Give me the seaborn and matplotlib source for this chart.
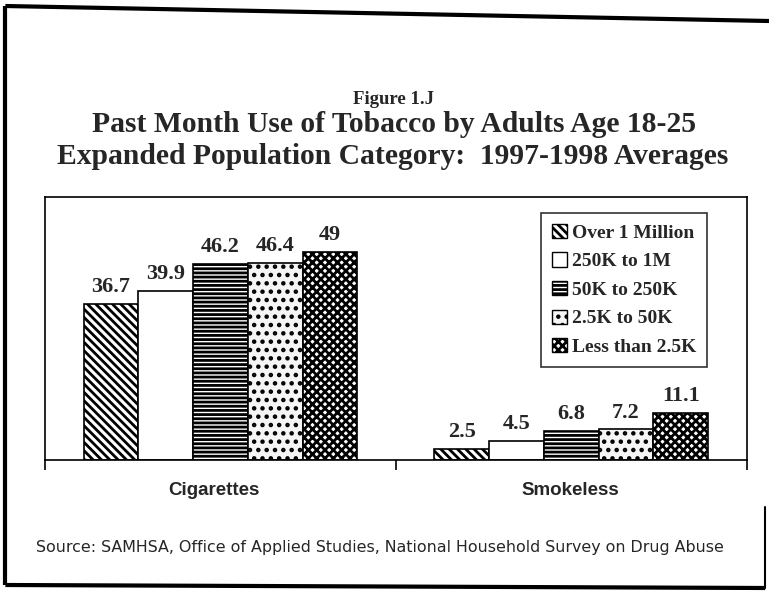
import numpy as np
import pandas as pd
import seaborn as sns
import matplotlib
matplotlib.use("Agg")
import matplotlib.pyplot as plt
from matplotlib.lines import Line2D
from matplotlib.patches import Patch

# datos
categorias = ["Cigarettes", "Smokeless"]
poblacion = ["Over 1 Million", "250K to 1M", "50K to 250K", "2.5K to 50K", "Less than 2.5K"]
cigarrillos = [36.7, 39.9, 46.2, 46.4, 49]
sin_humo = [2.5, 4.5, 6.8, 7.2, 11.1]

df = pd.DataFrame({
    "categoria": np.repeat(categorias, len(poblacion)),
    "poblacion": poblacion * 2,
    "valor": cigarrillos + sin_humo,
})

sns.set_style("white")
plt.rcParams["hatch.linewidth"] = 2.0
serif = ["Liberation Serif", "DejaVu Serif"]
sans = ["Liberation Sans", "DejaVu Sans"]

fig = plt.figure(figsize=(7.69, 6.0), dpi=100)
ax = fig.add_axes([0.0585, 0.2333, 0.9125, 0.4384])

sns.barplot(data=df, x="categoria", y="valor", hue="poblacion", hue_order=poblacion,
            order=categorias, width=0.78, gap=0, palette=["white"] * 5,
            edgecolor="black", linewidth=1.2, legend=False, ax=ax)

# tramas tipo blanco y negro
tramas = ["\\\\\\\\", "", "----", "..", "xxxx"]
colores = ["white", "white", "white", "#f5f5f5", "white"]
for cont, h, c in zip(ax.containers, tramas, colores):
    for barra in cont:
        barra.set_hatch(h)
        barra.set_facecolor(c)
    ax.bar_label(cont, fmt="%g", padding=5, fontsize=16, fontweight="bold", family=serif)

ax.set_xlim(-0.5, 1.5)
ax.set_ylim(0, 62)
ax.set_xlabel("")
ax.set_ylabel("")
ax.set_yticks([])
ax.set_xticks([-0.5, 0.5, 1.5])
ax.set_xticklabels([])
ax.tick_params(axis="x", bottom=True, direction="out", length=7, width=1.2, color="black")
for s in ax.spines.values():
    s.set_color("black")
    s.set_linewidth(1.2)

manijas = [Patch(facecolor=c, edgecolor="black", hatch=h, linewidth=1.0)
           for h, c in zip(tramas, colores)]
leg = ax.legend(manijas, poblacion, loc="upper right", bbox_to_anchor=(0.944, 0.939),
                borderaxespad=0, frameon=True, fancybox=False, handlelength=0.75,
                handleheight=0.75, handletextpad=0.3, labelspacing=0.55, borderpad=0.55,
                prop={"family": serif, "weight": "bold", "size": 14})
leg.get_frame().set_edgecolor("black")
leg.get_frame().set_linewidth(1.2)

# textos
fig.text(0.512, 0.835, "Figure 1.J", ha="center", va="center", family=serif,
         fontweight="bold", fontsize=13.5)
fig.text(0.512, 0.793, "Past Month Use of Tobacco by Adults Age 18-25", ha="center",
         va="center", family=serif, fontweight="bold", fontsize=21.3)
fig.text(0.51, 0.739, "Expanded Population Category:  1997-1998 Averages", ha="center",
         va="center", family=serif, fontweight="bold", fontsize=21.3)
fig.text(0.278, 0.182, "Cigarettes", ha="center", va="center", family=sans,
         fontweight="bold", fontsize=13.5)
fig.text(0.742, 0.182, "Smokeless", ha="center", va="center", family=sans,
         fontweight="bold", fontsize=13.5)
fig.text(0.494, 0.087, "Source: SAMHSA, Office of Applied Studies, National Household Survey on Drug Abuse",
         ha="center", va="center", family=["DejaVu Sans"], fontsize=11.4)

# marco de la pagina
marco = dict(color="black", linewidth=3, solid_capstyle="butt")
fig.add_artist(Line2D([0.007, 1.0], [0.99, 0.965], **marco))
fig.add_artist(Line2D([0.007, 0.007], [0.99, 0.025], **marco))
fig.add_artist(Line2D([0.007, 0.995], [0.025, 0.02], **marco))
fig.add_artist(Line2D([0.995, 0.995], [0.02, 0.155], color="black", linewidth=1.5))

fig.savefig("out.png", dpi=100)
plt.close(fig)
